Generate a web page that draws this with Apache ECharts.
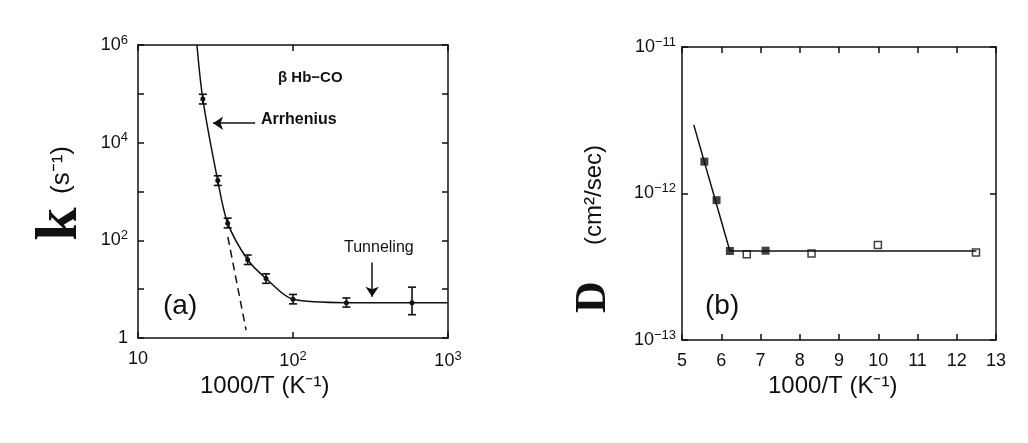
<!DOCTYPE html>
<html>
<head>
<meta charset="utf-8">
<script src="https://cdn.jsdelivr.net/npm/echarts@6/dist/echarts.min.js"></script>
<style>
html,body{margin:0;padding:0;background:#fff;}
#chart{width:1028px;height:443px;}
</style>
</head>
<body>
<div id="chart"></div>
<script>
// (a) rate k vs 1000/T, log-log
var kX = [26.2, 32.7, 37.9, 51, 67, 100, 221, 586];
var kY = [7.8e4, 1670, 225, 40, 16.5, 6.2, 5.3, 5.3];
var kLo = [6.2e4, 1330, 180, 32, 13.2, 5.0, 4.3, 3.0];
var kHi = [9.8e4, 2100, 285, 50, 20.6, 7.8, 6.6, 11];
var kCurveX = [24, 26.2, 32.7, 37.9, 51, 67, 100, 221, 1000];
var kCurveY = [1e6, 7.8e4, 1670, 225, 40, 16.5, 6.2, 5.3, 5.3];
var arrhX = [38, 49.8];
var arrhY = [117, 1.45];

// (b) diffusion D vs 1000/T
var dFilledX = [5.57, 5.88, 6.22, 7.13];
var dFilledY = [1.65e-12, 9.0e-13, 4.05e-13, 4.07e-13];
var dOpenX = [6.65, 8.3, 9.99, 12.49];
var dOpenY = [3.85e-13, 3.9e-13, 4.45e-13, 3.95e-13];
var dLineX = [5.3, 6.22, 12.5];
var dLineY = [2.94e-12, 4.05e-13, 4.05e-13];

function zip(a, b){ return a.map(function(v, i){ return [v, b[i]]; }); }

var font = 'Liberation Sans';
var sup = {fontSize: 13, verticalAlign: 'top', padding: [0,0,10,0], fontFamily: font, color: '#111'};
var base = {fontSize: 18, fontFamily: font, color: '#111'};

function expLabel(v){
	var e = Math.round(Math.log10(v));
	return '{b|10}{s|' + (e < 0 ? '−' + (-e) : e) + '}';
}

var myChart = echarts.init(document.getElementById('chart'));
var lineStyle = {color: '#111', width: 1.5};
var axisLine = {show: true, lineStyle: {color: '#111', width: 1.5}};
var tickIn = {show: true, inside: true, length: 6, lineStyle: {color: '#111', width: 1.5}};

var option = {
	backgroundColor: '#fff',
	animation: false,
	grid: [
		{left: 138, top: 45, width: 310, height: 293},
		{left: 682, top: 47, width: 314, height: 293}
	],
	xAxis: [
		{type: 'log', gridIndex: 0, min: 10, max: 1000, logBase: 10, axisLine: axisLine, axisTick: tickIn, splitLine: {show: false},
			axisLabel: {margin: 12, formatter: function(v){ return v == 10 ? '{b|10}' : expLabel(v); }, rich: {b: base, s: sup}}},
		{type: 'log', gridIndex: 0, position: 'top', min: 10, max: 1000, axisLine: axisLine, axisTick: tickIn, axisLabel: {show: false}, splitLine: {show: false}},
		{type: 'value', gridIndex: 1, min: 5, max: 13, interval: 1, axisLine: axisLine, axisTick: tickIn, splitLine: {show: false},
			axisLabel: {margin: 12, fontSize: 18, fontFamily: font, color: '#111'}},
		{type: 'value', gridIndex: 1, position: 'top', min: 5, max: 13, interval: 1, axisLine: axisLine, axisTick: tickIn, axisLabel: {show: false}, splitLine: {show: false}}
	],
	yAxis: [
		{type: 'log', gridIndex: 0, min: 1, max: 1e6, axisLine: axisLine, axisTick: tickIn, splitLine: {show: false},
			axisLabel: {margin: 10, formatter: function(v){
				var e = Math.round(Math.log10(v));
				if (e % 2) return '';
				return e == 0 ? '{b|1}' : expLabel(v);
			}, rich: {b: base, s: sup}}},
		{type: 'log', gridIndex: 0, position: 'right', min: 1, max: 1e6, axisLine: axisLine, axisTick: tickIn, axisLabel: {show: false}, splitLine: {show: false}},
		{type: 'log', gridIndex: 1, min: 1e-13, max: 1e-11, axisLine: axisLine, axisTick: tickIn, splitLine: {show: false},
			axisLabel: {margin: 6, formatter: expLabel, rich: {b: base, s: sup}}},
		{type: 'log', gridIndex: 1, position: 'right', min: 1e-13, max: 1e-11, axisLine: axisLine, axisTick: tickIn, axisLabel: {show: false}, splitLine: {show: false}}
	],
	series: [
		{type: 'line', xAxisIndex: 0, yAxisIndex: 0, data: zip(kCurveX, kCurveY), symbol: 'none', smooth: 0.3, lineStyle: lineStyle,
			markLine: {silent: true, symbol: ['none', 'arrow'], symbolSize: 10, label: {show: false}, lineStyle: {color: '#111', width: 1.5, type: 'solid'},
				data: [
					[{coord: [57, 2.5e4]}, {coord: [30.5, 2.5e4]}],
					[{coord: [324, 35]}, {coord: [324, 7]}]
				]}},
		{type: 'line', xAxisIndex: 0, yAxisIndex: 0, data: zip(arrhX, arrhY), symbol: 'none', lineStyle: {color: '#111', width: 1.5, type: [8, 5]}},
		{type: 'custom', xAxisIndex: 0, yAxisIndex: 0,
			data: kX.map(function(x, i){ return [x, kY[i], kLo[i], kHi[i]]; }),
			renderItem: function(params, api){
				var p = api.coord([api.value(0), api.value(1)]);
				var lo = api.coord([api.value(0), api.value(2)]);
				var hi = api.coord([api.value(0), api.value(3)]);
				var w = 4;
				var st = {stroke: '#111', lineWidth: 1.6};
				return {type: 'group', children: [
					{type: 'line', shape: {x1: p[0], y1: lo[1], x2: p[0], y2: hi[1]}, style: st},
					{type: 'line', shape: {x1: p[0]-w, y1: lo[1], x2: p[0]+w, y2: lo[1]}, style: st},
					{type: 'line', shape: {x1: p[0]-w, y1: hi[1], x2: p[0]+w, y2: hi[1]}, style: st},
					{type: 'circle', shape: {cx: p[0], cy: p[1], r: 2.5}, style: {fill: '#111'}}
				]};
			}},
		{type: 'line', xAxisIndex: 2, yAxisIndex: 2, data: zip(dLineX, dLineY), symbol: 'none', lineStyle: lineStyle},
		{type: 'scatter', xAxisIndex: 2, yAxisIndex: 2, data: zip(dFilledX, dFilledY), symbol: 'rect', symbolSize: 8, itemStyle: {color: '#111'}},
		{type: 'scatter', xAxisIndex: 2, yAxisIndex: 2, data: zip(dOpenX, dOpenY), symbol: 'rect', symbolSize: 7, itemStyle: {color: '#fff', borderColor: '#111', borderWidth: 1.5}}
	],
	graphic: [
		{type: 'text', left: 278, top: 70, style: {text: 'β Hb−CO', font: 'bold 15px "Liberation Sans"', fill: '#111'}},
		{type: 'text', left: 261, top: 112, style: {text: 'Arrhenius', font: 'bold 16px "Liberation Sans"', fill: '#111'}},
		{type: 'text', left: 344, top: 240, style: {text: 'Tunneling', font: '16px "Liberation Sans"', fill: '#111'}},
		{type: 'text', left: 163, top: 292, style: {text: '(a)', font: '28px "Liberation Sans"', fill: '#111'}},
		{type: 'text', left: 705, top: 292, style: {text: '(b)', font: '28px "Liberation Sans"', fill: '#111'}},
		{type: 'text', left: 200, top: 374, style: {text: '1000/T (K⁻¹)', font: '24px "Liberation Sans"', fill: '#111'}},
		{type: 'text', left: 768, top: 374, style: {text: '1000/T (K⁻¹)', font: '24px "Liberation Sans"', fill: '#111'}},
		{type: 'text', x: 60, y: 224, rotation: Math.PI / 2, style: {text: 'k', font: 'bold 60px "Liberation Serif"', fill: '#111', align: 'center', verticalAlign: 'middle'}},
		{type: 'text', x: 62, y: 170, rotation: Math.PI / 2, style: {text: '(s⁻¹)', font: '26px "Liberation Sans"', fill: '#111', align: 'center', verticalAlign: 'middle'}},
		{type: 'text', x: 594, y: 297, rotation: Math.PI / 2, style: {text: 'D', font: 'bold 44px "Liberation Serif"', fill: '#111', align: 'center', verticalAlign: 'middle'}},
		{type: 'text', x: 594, y: 195, rotation: Math.PI / 2, style: {text: '(cm²/sec)', font: '24px "Liberation Sans"', fill: '#111', align: 'center', verticalAlign: 'middle'}}
	]
};
myChart.setOption(option);
</script>
</body>
</html>
